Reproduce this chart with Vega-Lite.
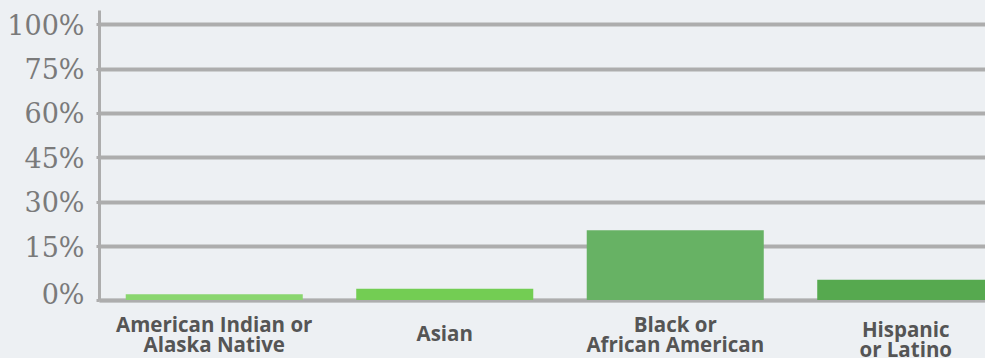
{
  "$schema": "https://vega.github.io/schema/vega-lite/v6.json",
  "autosize": {"type": "none"},
  "width": 886,
  "height": 290,
  "padding": {"left": 99, "top": 10, "right": 0, "bottom": 58},
  "background": "#edf0f3",
  "config": {"view": {"stroke": null}},
  "data": {
    "values": [
      {"group": "American Indian or Alaska Native", "share": 1.6},
      {"group": "Asian", "share": 3.1},
      {"group": "Black or African American", "share": 20.3},
      {"group": "Hispanic or Latino", "share": 5.6}
    ]
  },
  "mark": {"type": "bar", "clip": true},
  "encoding": {
    "x": {
      "field": "group",
      "type": "nominal",
      "sort": null,
      "scale": {"range": [0, 922], "paddingInner": 0.232, "paddingOuter": 0.116},
      "axis": {
        "title": null,
        "labelAngle": 0,
        "ticks": false,
        "tickSize": 0,
        "domain": true,
        "domainColor": "#adadad",
        "domainWidth": 3.5,
        "labelFont": "Open Sans",
        "labelFontWeight": "bold",
        "labelFontSize": 20.5,
        "labelColor": "#555555",
        "labelBaseline": "top",
        "labelPadding": {"condition": [{"test": "datum.value == 'Asian'", "value": 24}, {"test": "datum.value == 'Hispanic or Latino'", "value": 20}], "value": 15},
        "labelLineHeight": 20,
        "labelLimit": 400,
        "labelOverlap": false,
        "labelExpr": "datum.value == 'American Indian or Alaska Native' ? ['American Indian or', 'Alaska Native'] : datum.value == 'Black or African American' ? ['Black or', 'African American'] : datum.value == 'Hispanic or Latino' ? ['Hispanic', 'or Latino'] : datum.value"
      }
    },
    "y": {
      "field": "share",
      "type": "quantitative",
      "scale": {"domain": [0, 15, 75, 108.2], "range": [290, 236, 58.5, 0], "nice": false},
      "axis": {
        "title": null,
        "values": [0, 15, 30, 45, 60, 75, 100],
        "labelExpr": "datum.value + '%'",
        "grid": true,
        "gridColor": "#adadad",
        "gridWidth": 4,
        "domain": true,
        "domainColor": "#adadad",
        "domainWidth": 3,
        "ticks": true,
        "tickSize": 3,
        "tickWidth": 3,
        "tickColor": "#adadad",
        "labelFont": "DejaVu Serif",
        "labelFontSize": 27,
        "labelColor": "#7a7a7a",
        "labelPadding": 12,
        "labelBaseline": "middle",
        "labelOffset": {"condition": {"test": "datum.value == 0", "value": -5}, "value": 2}
      }
    },
    "color": {
      "field": "group",
      "type": "nominal",
      "sort": null,
      "scale": {"range": ["#8ad66f", "#73cd53", "#67b264", "#56a94f"]},
      "legend": null
    }
  }
}
